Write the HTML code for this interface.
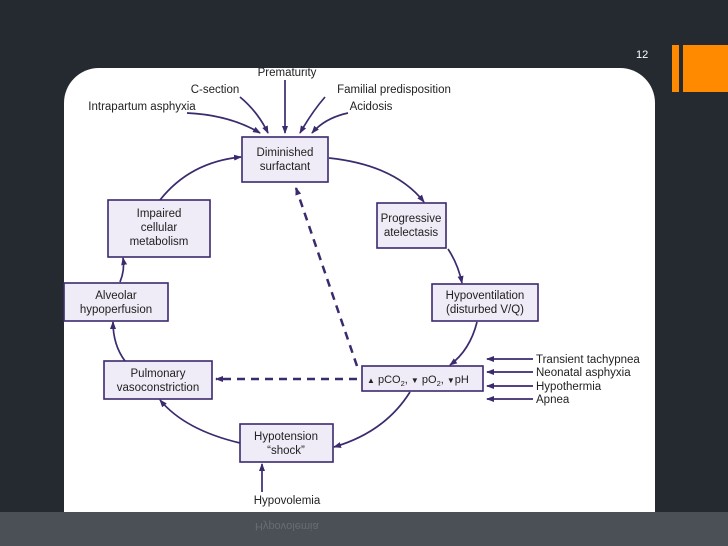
<!DOCTYPE html>
<html><head><meta charset="utf-8"><style>
html,body{margin:0;padding:0;background:#252a30;width:728px;height:546px;overflow:hidden}
svg{display:block}
text{font-family:"Liberation Sans",sans-serif;font-size:11.5px;fill:#222}
</style></head><body>
<svg width="728" height="546" viewBox="0 0 728 546" xmlns="http://www.w3.org/2000/svg">
<defs>
<marker id="a" markerWidth="8" markerHeight="8" refX="7" refY="4" orient="auto" markerUnits="userSpaceOnUse"><path d="M0,1 L8,4 L0,7 Z" fill="#3b2a6e"/></marker>
</defs>
<rect width="728" height="546" fill="#252a30"/>
<rect x="0" y="512" width="728" height="34" fill="#4b5057"/>
<rect x="672" y="45" width="7" height="47" fill="#ff8a00"/>
<rect x="683" y="45" width="45" height="47" fill="#ff8a00"/>
<text x="636" y="58" style="fill:#fff;font-size:11px">12</text>
<path d="M99,68 H620 A35,35 0 0 1 655,103 V512 H64 V103 A35,35 0 0 1 99,68 Z" fill="#fff"/>
<text x="255" y="523" style="fill:#888;font-size:11px" transform="translate(0,1046) scale(1,-1)" opacity="0.5">Hypovolemia</text>
<g fill="#efebf7" stroke="#3b2a6e" stroke-width="1.6">
<rect x="242" y="137" width="86" height="45"/>
<rect x="377" y="203" width="69" height="45"/>
<rect x="432" y="284" width="106" height="37"/>
<rect x="362" y="366" width="121" height="25"/>
<rect x="240" y="424" width="93" height="38"/>
<rect x="104" y="361" width="108" height="38"/>
<rect x="64" y="283" width="104" height="38"/>
<rect x="108" y="200" width="102" height="57"/>
</g>
<g fill="none" stroke="#3b2a6e" stroke-width="1.7" marker-end="url(#a)">
<path d="M329,158 Q395,165 424,202"/>
<path d="M448,249 Q458,264 462,283"/>
<path d="M477,322 Q470,350 450,365"/>
<path d="M410,392 Q385,432 334,447"/>
<path d="M240,443 Q185,430 160,400"/>
<path d="M125,361 Q113,345 113,322"/>
<path d="M120,282 Q125,270 123,258"/>
<path d="M160,200 Q190,162 241,157"/>
<path d="M285,80 V133"/>
<path d="M240,97 Q258,112 268,133"/>
<path d="M187,113 Q230,115 260,133"/>
<path d="M325,97 Q312,112 300,133"/>
<path d="M348,113 Q325,118 312,133"/>
<path d="M262,492 V464"/>
<path d="M533,359 H487"/>
<path d="M533,372 H487"/>
<path d="M533,386 H487"/>
<path d="M533,399 H487"/>
</g>
<g fill="none" stroke="#3b2a6e" stroke-width="2.5" stroke-dasharray="8,6" marker-end="url(#a)">
<path d="M357,366 L296,188"/>
<path d="M357,379 H216"/>
</g>
<g text-anchor="middle">
<text x="285" y="156">Diminished</text><text x="285" y="170">surfactant</text>
<text x="411" y="222">Progressive</text><text x="411" y="236">atelectasis</text>
<text x="485" y="299">Hypoventilation</text><text x="485" y="313">(disturbed V/Q)</text>
<text x="286" y="440">Hypotension</text><text x="286" y="454">“shock”</text>
<text x="158" y="377">Pulmonary</text><text x="158" y="391">vasoconstriction</text>
<text x="116" y="299">Alveolar</text><text x="116" y="313">hypoperfusion</text>
<text x="159" y="217">Impaired</text><text x="159" y="231">cellular</text><text x="159" y="245">metabolism</text>
<text x="287" y="76">Prematurity</text>
<text x="215" y="93">C-section</text>
<text x="142" y="110">Intrapartum asphyxia</text>
<text x="394" y="93">Familial predisposition</text>
<text x="371" y="110">Acidosis</text>
<text x="287" y="504">Hypovolemia</text>
</g>
<text x="367" y="383" style="font-size:11px"><tspan font-size="8">▲</tspan> pCO<tspan font-size="7.5" dy="3">2</tspan><tspan dy="-3">, </tspan><tspan font-size="8">▼</tspan> pO<tspan font-size="7.5" dy="3">2</tspan><tspan dy="-3">, </tspan><tspan font-size="8">▼</tspan>pH</text>
<text x="536" y="363">Transient tachypnea</text>
<text x="536" y="376">Neonatal asphyxia</text>
<text x="536" y="390">Hypothermia</text>
<text x="536" y="403">Apnea</text>
</svg>
</body></html>
